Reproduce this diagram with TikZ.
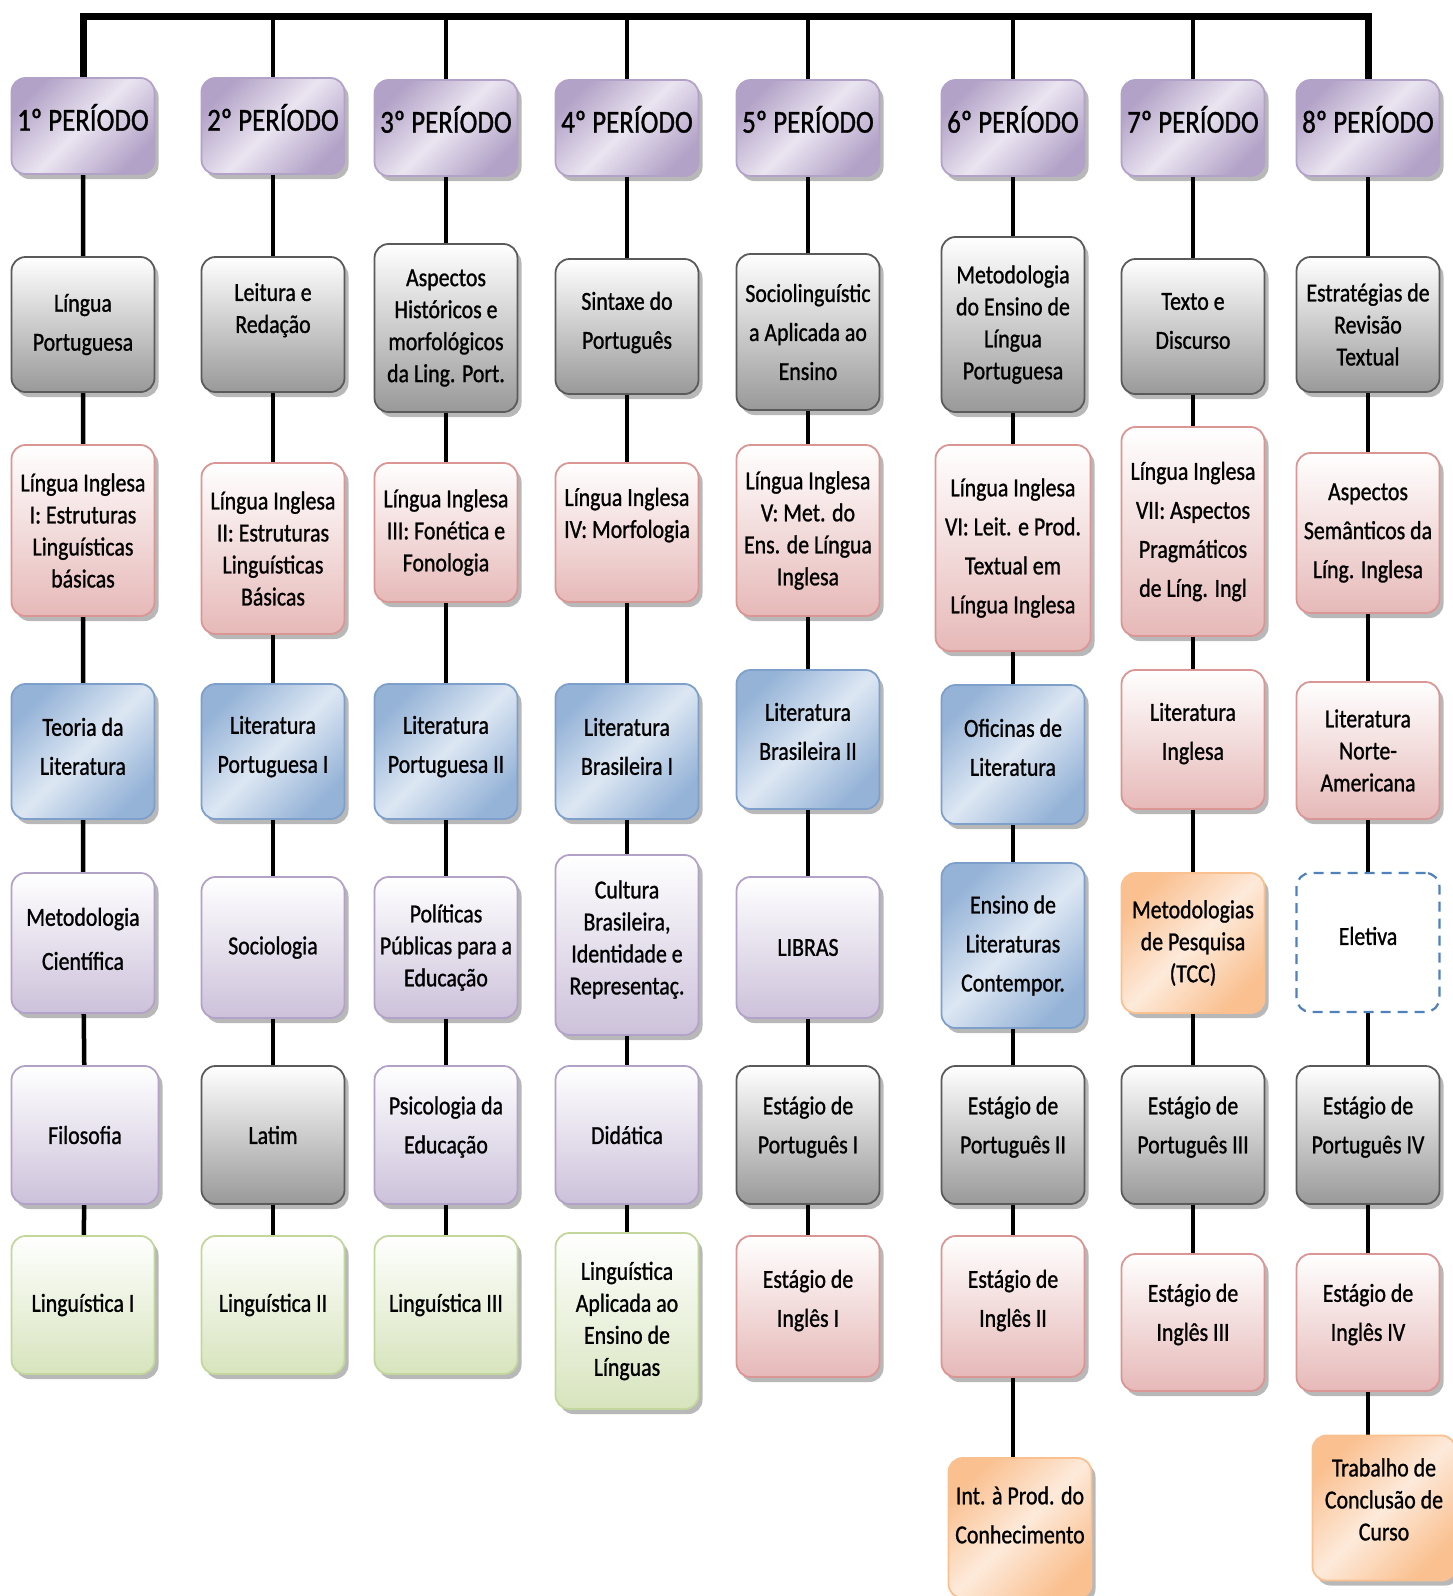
\documentclass[tikz,border=0pt]{standalone}
\usepackage{fontspec}
\setmainfont[FakeStretch=0.84,FakeBold=1]{Carlito}
\usetikzlibrary{shadows,backgrounds}
\definecolor{hdark}{HTML}{B3A2C7}
\definecolor{hlight}{HTML}{EAE5F1}
\definecolor{gbot}{HTML}{999999}
\definecolor{gline}{HTML}{5A5A5A}
\definecolor{rbot}{HTML}{E6B9B8}
\definecolor{rline}{HTML}{D99694}
\definecolor{bdark}{HTML}{95B3D7}
\definecolor{blight}{HTML}{DDE7F3}
\definecolor{bline}{HTML}{7F9FCB}
\definecolor{pbot}{HTML}{CCC1DA}
\definecolor{pline}{HTML}{B3A2C7}
\definecolor{vbot}{HTML}{D7E4BD}
\definecolor{vline}{HTML}{C3D69B}
\definecolor{odark}{HTML}{FAC090}
\definecolor{olight}{HTML}{FDEADA}
\definecolor{eline}{HTML}{4F81BD}
\newcommand\up[2]{\raisebox{#1}[\height][\depth]{\begin{tabular}{@{}c@{}}#2\end{tabular}}}
\begin{document}
\begin{tikzpicture}[x=1pt,y=-1pt,line join=round,
	cell/.style={rectangle,rounded corners=14pt,minimum width=143pt,line width=1.8pt,align=center,inner sep=2pt,font=\fontsize{26}{32}\selectfont},
	sh/.style={drop shadow={shadow xshift=4pt,shadow yshift=-5pt,fill=black,opacity=.28}},
	loose/.style={font=\fontsize{26}{39}\selectfont},
	headbox/.style={cell,sh,draw=hdark,left color=hdark,right color=hdark,middle color=hlight,shading angle=45,minimum height=96pt,font=\fontsize{32}{38}\selectfont},
	portbox/.style={cell,sh,draw=gline,top color=white,bottom color=gbot},
	inglbox/.style={cell,sh,draw=rline,top color=white,bottom color=rbot},
	pedbox/.style={cell,sh,draw=pline,top color=white,bottom color=pbot},
	lingbox/.style={cell,sh,draw=vline,top color=white,bottom color=vbot},
	litbox/.style={cell,sh,draw=bline,left color=bdark,right color=bdark,middle color=blight,shading angle=45},
	tccbox/.style={cell,sh,draw=odark,left color=odark,right color=odark,middle color=olight,shading angle=45},
	elbox/.style={cell,draw=eline,fill=white,line width=2.2pt,dash pattern=on 10pt off 7pt},
	link/.style={line width=4.5pt},
	bar/.style={line width=7pt}]
	\useasboundingbox (0,0) rectangle (1453,1596);
	\def\ca{83} \def\cb{273} \def\cc{446} \def\cd{627}
	\def\ce{808} \def\cf{1013} \def\cg{1193} \def\ch{1368}
	\node[headbox] (h1) at (\ca,126) {\up{3pt}{1º PERÍODO}};
	\node[portbox,loose,minimum height=135pt] (c1a) at (\ca,324.5) {Língua\\Portuguesa};
	\node[inglbox,minimum height=171pt] (c1b) at (\ca,530.5) {Língua Inglesa\\I: Estruturas\\Linguísticas\\básicas};
	\node[litbox,loose,minimum height=135pt] (c1c) at (\ca,751.5) {\up{4pt}{Teoria da\\Literatura}};
	\node[pedbox,font=\fontsize{26}{44}\selectfont,minimum height=140pt] (c1d) at (\ca,943) {\up{4pt}{Metodologia\\Científica}};
	\node[pedbox,minimum height=138pt,minimum width=147pt] (c1e) at (\ca+2,1135) {Filosofia};
	\node[lingbox,minimum height=138pt] (c1f) at (\ca,1305) {Linguística I};
	\node[headbox] (h2) at (\cb,126) {\up{3pt}{2º PERÍODO}};
	\node[portbox,minimum height=135pt] (c2a) at (\cb,324.5) {\up{14pt}{Leitura e\\Redação}};
	\node[inglbox,minimum height=171pt] (c2b) at (\cb,548.5) {Língua Inglesa\\II: Estruturas\\Linguísticas\\Básicas};
	\node[litbox,loose,minimum height=135pt] (c2c) at (\cb,751.5) {\up{6pt}{Literatura\\Portuguesa I}};
	\node[pedbox,minimum height=141pt] (c2d) at (\cb,947.5) {Sociologia};
	\node[portbox,minimum height=138pt] (c2e) at (\cb,1135) {Latim};
	\node[lingbox,minimum height=138pt] (c2f) at (\cb,1305) {Linguística II};
	\node[headbox] (h3) at (\cc,128) {\up{3pt}{3º PERÍODO}};
	\node[portbox,minimum height=168pt] (c3a) at (\cc,328) {Aspectos\\Históricos e\\morfológicos\\da Ling. Port.};
	\node[inglbox,minimum height=139pt] (c3b) at (\cc,532.5) {Língua Inglesa\\III: Fonética e\\Fonologia};
	\node[litbox,loose,minimum height=135pt] (c3c) at (\cc,751.5) {\up{6pt}{Literatura\\Portuguesa II}};
	\node[pedbox,minimum height=141pt] (c3d) at (\cc,947.5) {Políticas\\Públicas para a\\Educação};
	\node[pedbox,loose,minimum height=138pt] (c3e) at (\cc,1135) {\up{9pt}{Psicologia da\\Educação}};
	\node[lingbox,minimum height=138pt] (c3f) at (\cc,1305) {Linguística III};
	\node[headbox] (h4) at (\cd,128) {\up{3pt}{4º PERÍODO}};
	\node[portbox,loose,minimum height=135pt] (c4a) at (\cd,326.5) {\up{5pt}{Sintaxe do\\Português}};
	\node[inglbox,minimum height=139pt] (c4b) at (\cd,532.5) {\up{17pt}{Língua Inglesa\\IV: Morfologia}};
	\node[litbox,loose,minimum height=135pt] (c4c) at (\cd,751.5) {\up{4pt}{Literatura\\Brasileira I}};
	\node[pedbox,minimum height=180pt] (c4d) at (\cd,945) {\up{5pt}{Cultura\\Brasileira,\\Identidade e\\Representaç.}};
	\node[pedbox,minimum height=138pt] (c4e) at (\cd,1135) {Didática};
	\node[lingbox,minimum height=176pt] (c4f) at (\cd,1321) {Linguística\\Aplicada ao\\Ensino de\\Línguas};
	\node[headbox] (h5) at (\ce,128) {\up{3pt}{5º PERÍODO}};
	\node[portbox,loose,minimum height=156pt] (c5a) at (\ce,332) {Sociolinguístic\\a Aplicada ao\\Ensino};
	\node[inglbox,minimum height=171pt] (c5b) at (\ce,530.5) {Língua Inglesa\\V: Met. do\\Ens. de Língua\\Inglesa};
	\node[litbox,loose,minimum height=139pt] (c5c) at (\ce,739.5) {\up{7pt}{Literatura\\Brasileira II}};
	\node[pedbox,minimum height=141pt] (c5d) at (\ce,947.5) {LIBRAS};
	\node[portbox,loose,minimum height=138pt] (c5e) at (\ce,1135) {\up{9pt}{Estágio de\\Português I}};
	\node[inglbox,loose,minimum height=141pt] (c5f) at (\ce,1306.5) {\up{7pt}{Estágio de\\Inglês I}};
	\node[headbox] (h6) at (\cf,128) {\up{3pt}{6º PERÍODO}};
	\node[portbox,minimum height=175pt] (c6a) at (\cf,324.5) {Metodologia\\do Ensino de\\Língua\\Portuguesa};
	\node[inglbox,loose,minimum height=206pt,minimum width=155pt] (c6b) at (\cf,548) {Língua Inglesa\\VI: Leit. e Prod.\\Textual em\\Língua Inglesa};
	\node[litbox,loose,minimum height=139pt] (c6c) at (\cf,754.5) {\up{6pt}{Oficinas de\\Literatura}};
	\node[litbox,loose,minimum height=165pt] (c6d) at (\cf,945.5) {Ensino de\\Literaturas\\Contempor.};
	\node[portbox,loose,minimum height=138pt] (c6e) at (\cf,1135) {\up{9pt}{Estágio de\\Português II}};
	\node[inglbox,loose,minimum height=141pt] (c6f) at (\cf,1306.5) {\up{7pt}{Estágio de\\Inglês II}};
	\node[tccbox,loose,minimum height=140pt] (c6g) at (1020,1528) {\up{12pt}{Int. à Prod. do\\Conhecimento}};
	\node[headbox] (h7) at (\cg,128) {\up{3pt}{7º PERÍODO}};
	\node[portbox,loose,minimum height=135pt] (c7a) at (\cg,326.5) {\up{5pt}{Texto e\\Discurso}};
	\node[inglbox,loose,minimum height=209pt] (c7b) at (\cg,531.5) {Língua Inglesa\\VII: Aspectos\\Pragmáticos\\de Líng. Ingl};
	\node[inglbox,loose,minimum height=139pt] (c7c) at (\cg,739.5) {\up{7pt}{Literatura\\Inglesa}};
	\node[tccbox,minimum height=140pt] (c7d) at (\cg,943) {Metodologias\\de Pesquisa\\(TCC)};
	\node[portbox,loose,minimum height=138pt] (c7e) at (\cg,1135) {\up{9pt}{Estágio de\\Português III}};
	\node[inglbox,loose,minimum height=137pt] (c7f) at (\cg,1322.5) {\up{9pt}{Estágio de\\Inglês III}};
	\node[headbox] (h8) at (\ch,128) {\up{3pt}{8º PERÍODO}};
	\node[portbox,minimum height=135pt] (c8a) at (\ch,324.5) {Estratégias de\\Revisão\\Textual};
	\node[inglbox,loose,minimum height=160pt] (c8b) at (\ch,533) {Aspectos\\Semânticos da\\Líng. Inglesa};
	\node[inglbox,minimum height=137pt] (c8c) at (\ch,750.5) {Literatura\\Norte-\\Americana};
	\node[elbox,minimum height=139pt] (c8d) at (\ch,942.5) {\up{4pt}{Eletiva}};
	\node[portbox,loose,minimum height=138pt] (c8e) at (\ch,1135) {\up{9pt}{Estágio de\\Português IV}};
	\node[inglbox,loose,minimum height=137pt] (c8f) at (\ch,1322.5) {\up{9pt}{Estágio de\\Inglês IV}};
	\node[tccbox,minimum height=145pt] (c8g) at (1384,1508) {\up{6pt}{Trabalho de\\Conclusão de\\Curso}};
	\begin{scope}[on background layer]
		\coordinate (top) at (0,16);
		\draw[bar] (h1) -- (h1 |- top) -- (h8 |- top) -- (h8);
		\foreach \k in {2,...,7} \draw[link] (h\k) -- (h\k |- top);
		\foreach \k in {1,...,8} \draw[link] (h\k) -- (c\k a) -- (c\k b) -- (c\k c) -- (c\k d) -- (c\k e) -- (c\k f);
		\draw[link] (c6f) -- (c6f |- c6g.north);
		\draw[link] (c8f) -- (c8f |- c8g.north);
	\end{scope}
\end{tikzpicture}
\end{document}
